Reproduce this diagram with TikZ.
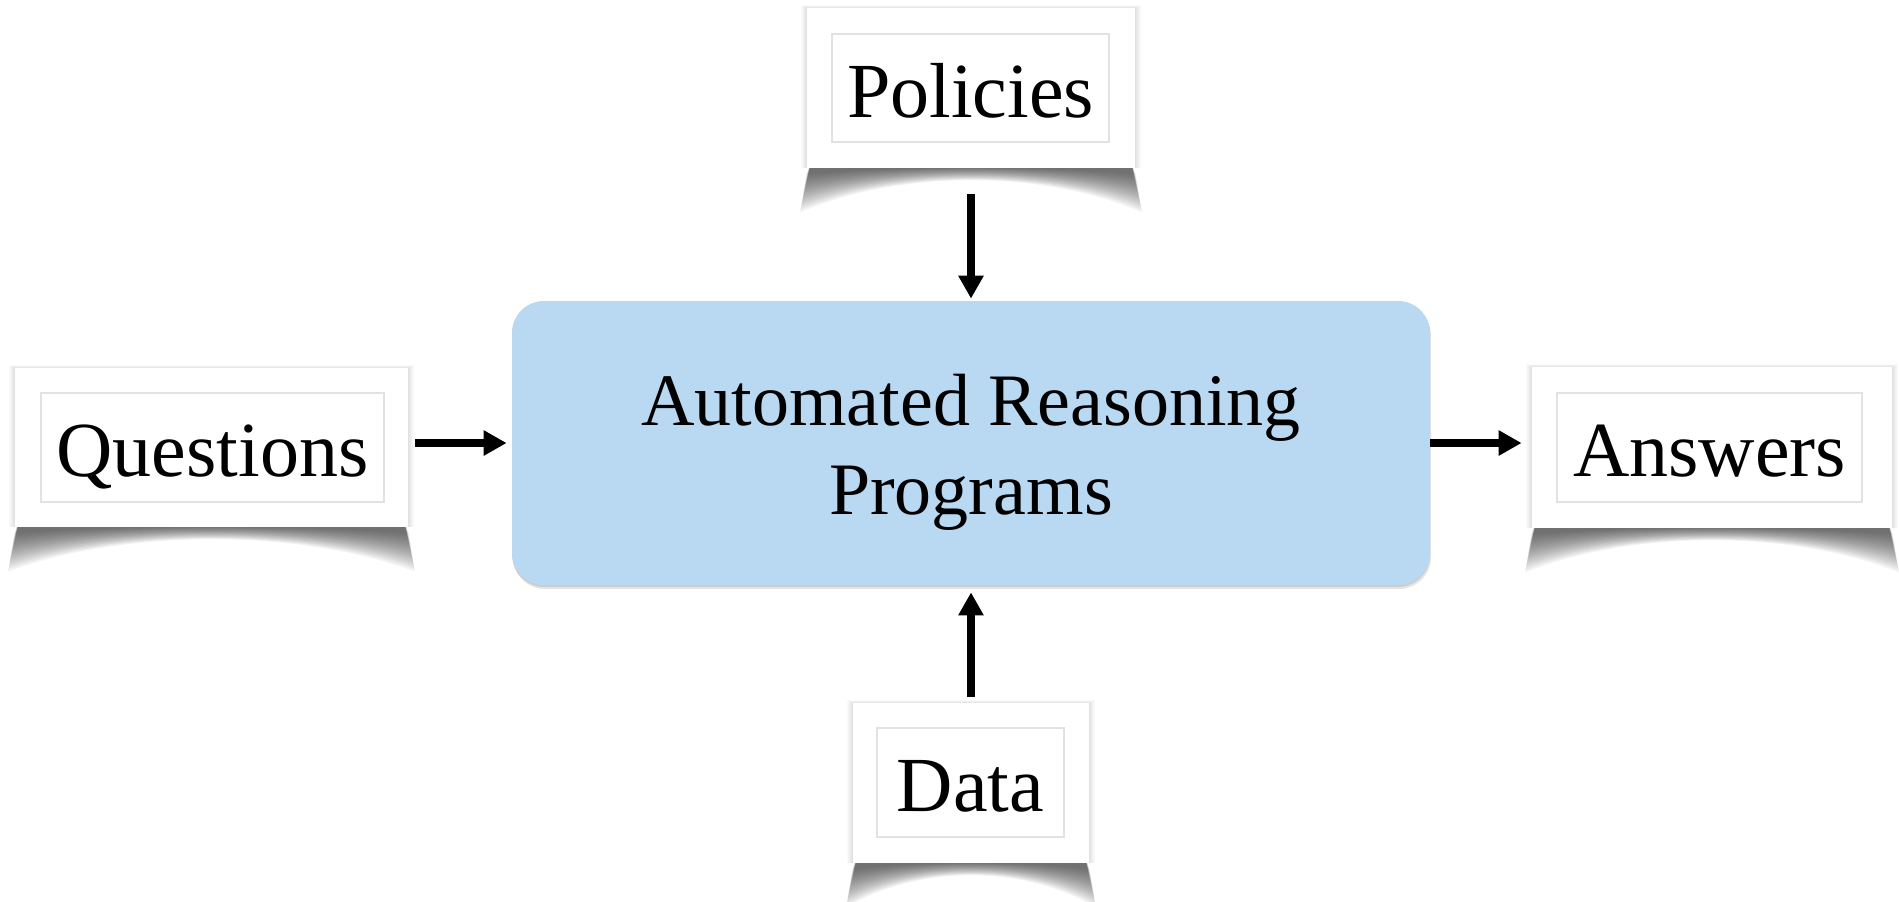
\documentclass[tikz,border=0pt]{standalone}
\usepackage{fontspec}
\setmainfont{Liberation Serif}
\usetikzlibrary{arrows.meta,calc}
\definecolor{boxblue}{RGB}{185,216,242}
\definecolor{framegray}{RGB}{226,226,226}
% #1 left, #2 right, #3 top, #4 bottom (pixels)
\newcommand{\curlshadow}[4]{%
  \foreach \k in {1,...,6}{%
    \fill[black,opacity=0.018] (#1-\k,#3-0.5*\k) rectangle (#2+\k,#4);
  }%
  \foreach \j in {0,...,15}{%
    \fill[black,opacity=0.047] (#1+4,#4-6) -- (#1-1-0.4*\j,#4+7+2.5*\j)
      .. controls ({0.72*#1+0.28*#2},#4-2.3+0.25*\j) and ({0.28*#1+0.72*#2},#4-2.3+0.25*\j) ..
      (#2+1+0.4*\j,#4+7+2.5*\j) -- (#2-4,#4-6) -- cycle;
  }%
}
\tikzset{
  outerbox/.style={fill=white, draw=none, inner sep=0pt},
  labelframe/.style={draw=framegray, line width=0.6pt, fill=white, inner sep=0pt,
    font=\fontsize{39pt}{47pt}\selectfont, text height=29pt, text depth=0pt},
  centralbox/.style={fill=boxblue, draw=none, rounded corners=16pt, inner sep=0pt,
    minimum width=459pt, minimum height=142pt, align=center,
    font=\fontsize{37pt}{44.5pt}\selectfont, text height=75pt, text depth=4pt},
  arr/.style={line width=4pt, -{Triangle[length=11.5pt,width=12pt]}}
}
\begin{document}
\begin{tikzpicture}[x=0.5pt,y=-0.5pt]
\useasboundingbox (0,0) rectangle (1899,901);
\fill[white] (0,0) rectangle (1899,901);

% shadows
\curlshadow{807}{1135}{8}{168}
\curlshadow{15}{408}{368}{527}
\curlshadow{1532}{1892}{367}{528}
\curlshadow{853}{1089}{703}{863}
\fill[black,opacity=0.10,rounded corners=16pt] (513,304) rectangle (1431,589);
\fill[black,opacity=0.10,rounded corners=16pt] (512,302) rectangle (1430,587);

% outer white cards
\node[outerbox, minimum width=164pt, minimum height=80pt] (pol) at (971,88) {};
\node[outerbox, minimum width=196.5pt, minimum height=79.5pt] (que) at (211.5,447.5) {};
\node[outerbox, minimum width=180pt, minimum height=80.5pt] (ans) at (1712,447.5) {};
\node[outerbox, minimum width=118pt, minimum height=80pt] (dat) at (971,783) {};

% inner framed labels
\node[labelframe, minimum width=138.5pt, minimum height=54pt] (poltext) at (970.5,88) {Policies};
\node[labelframe, minimum width=171.5pt, minimum height=54.5pt] (quetext) at (212.5,447.5) {Questions};
\node[labelframe, minimum width=152.5pt, minimum height=54.5pt] (anstext) at (1709.5,447.5) {Answers};
\node[labelframe, minimum width=93.5pt, minimum height=54.5pt] (dattext) at (970.5,782.5) {Data};

% central box
\node[centralbox] (arp) at (971,443) {Automated Reasoning\\Programs};

% arrows
\draw[arr, shorten <=13pt, shorten >=1pt] (pol.south) -- (arp.north);
\draw[arr, shorten <=3.5pt, shorten >=2.5pt] (que.east |- arp.west) -- (arp.west);
\draw[arr, shorten >=5pt] (arp.east) -- (arp.east -| ans.west);
\draw[arr, shorten <=3pt, shorten >=3.5pt] (dat.north) -- (arp.south);
\end{tikzpicture}
\end{document}
